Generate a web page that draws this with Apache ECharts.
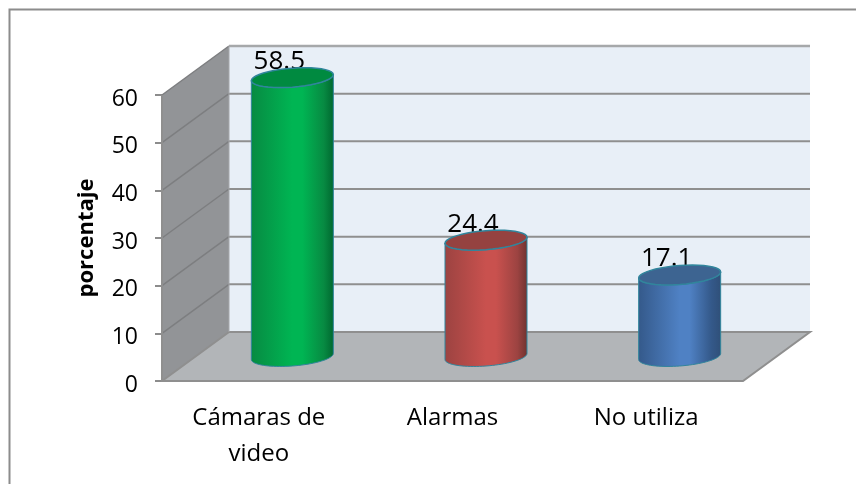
<!DOCTYPE html>
<html>
<head>
<meta charset="utf-8">
<style>html,body{margin:0;padding:0;background:#fff}#c{width:856px;height:484px}</style>
<script src="https://cdn.jsdelivr.net/npm/echarts@6/dist/echarts.min.js"></script>
</head>
<body>
<div id="c"></div>
<script>
var categories = ['Cámaras de\nvideo', 'Alarmas', 'No utiliza'];
var values = [58.5, 24.4, 17.1];
var yTicks = [0, 10, 20, 30, 40, 50, 60];
var sideColors = ['#00b553', '#c9514e', '#4f81c4'];
var edgeColors = ['#078a42', '#9c4341', '#34598a'];
var darkColors = ['#00672f', '#6e322f', '#2f4f78'];
var capColors = ['#008a40', '#954240', '#3d6491'];
var rimColor = '#31859c';
var FONT = '"Open Sans", sans-serif';
var DX = 67, DY = -49, RX = 41, RY = 9.5, SK = 3;

function ell(cx, cy, from, to) {
  var pts = [];
  var n = 40;
  for (var i = 0; i <= n; i++) {
    var t = from + (to - from) * i / n;
    pts.push([cx + RX * Math.cos(t), cy - SK * Math.cos(t) + RY * Math.sin(t)]);
  }
  return pts;
}

var chart = echarts.init(document.getElementById('c'), null, {renderer: 'canvas'});
chart.setOption({
  animation: false,
  backgroundColor: '#fff',
  grid: {left: 162, right: 113, top: 95, bottom: 103, containLabel: false},
  xAxis: {
    type: 'category', data: categories,
    axisLine: {show: false}, axisTick: {show: false},
    axisLabel: {color: '#000', fontFamily: FONT, fontSize: 24, margin: 19, lineHeight: 36, interval: 0}
  },
  yAxis: {
    type: 'value', min: 0, max: 60, interval: 10,
    name: 'porcentaje', nameLocation: 'middle', nameGap: 64, nameRotate: 90,
    nameTextStyle: {color: '#000', fontFamily: FONT, fontSize: 22, fontWeight: 'bold'},
    splitLine: {show: false},
    axisLine: {show: false},
    axisTick: {show: true, length: 7, lineStyle: {color: '#8c8c8c', width: 2}},
    axisLabel: {color: '#000', fontFamily: FONT, fontSize: 23, margin: 24, verticalAlign: 'top', lineHeight: 8}
  },
  series: [
    {
      type: 'custom', z: 1, silent: true, clip: false,
      coordinateSystem: 'cartesian2d',
      data: [0],
      encode: {x: 0, y: 0},
      renderItem: function (params, api) {
        var band = api.size([1, 0])[0];
        var x0 = api.coord([0, 0])[0] - band / 2;
        var x1 = x0 + band * categories.length;
        var y0 = api.coord([0, 0])[1];
        var yT = api.coord([0, yTicks[yTicks.length - 1]])[1];
        var kids = [];
        var edge = {stroke: '#8f8f8f', lineWidth: 2, fill: null};
        // back wall
        kids.push({type: 'polygon', shape: {points: [[x0 + DX, y0 + DY], [x1 + DX, y0 + DY], [x1 + DX, yT + DY], [x0 + DX, yT + DY]]},
          style: {fill: '#e8eff7'}});
        // side wall
        kids.push({type: 'polygon', shape: {points: [[x0, y0], [x0 + DX, y0 + DY], [x0 + DX, yT + DY], [x0, yT]]},
          style: {fill: '#929497'}});
        // floor
        kids.push({type: 'polygon', shape: {points: [[x0, y0], [x1, y0], [x1 + DX, y0 + DY], [x0 + DX, y0 + DY]]},
          style: {fill: '#b2b5b8'}});
        // grid lines
        yTicks.forEach(function (v) {
          var y = api.coord([0, v])[1];
          if (v > 0 && v < yTicks[yTicks.length - 1]) {
            kids.push({type: 'polyline', shape: {points: [[x0 + DX, y + DY], [x1 + DX, y + DY]]}, style: edge});
          }
          if (v > 0) {
            kids.push({type: 'polyline', shape: {points: [[x0, y], [x0 + DX, y + DY]]}, style: {stroke: '#7d7e80', lineWidth: 1.5, fill: null}});
          }
        });
        // edges
        kids.push({type: 'polyline', shape: {points: [[x1 + DX, yT + DY], [x0 + DX, yT + DY]]}, style: {stroke: '#a6a8aa', lineWidth: 2.5, fill: null}});
        kids.push({type: 'polyline', shape: {points: [[x0, yT], [x0, y0], [x1, y0], [x1 + DX, y0 + DY], [x0 + DX, y0 + DY], [x0, y0]]}, style: edge});
        kids.push({type: 'polyline', shape: {points: [[x0 + DX, y0 + DY], [x0 + DX, yT + DY]]}, style: {stroke: '#a6a8ab', lineWidth: 1, fill: null}});
        return {type: 'group', children: kids};
      }
    },
    {
      type: 'custom', z: 2, silent: true, clip: false,
      coordinateSystem: 'cartesian2d',
      data: values.map(function (v, i) { return [i, v]; }),
      encode: {x: 0, y: 1},
      renderItem: function (params, api) {
        var i = params.dataIndex;
        var val = api.value(1);
        var p = api.coord([api.value(0), val]);
        var b = api.coord([api.value(0), 0]);
        var cx = p[0] + DX / 2;
        var base = b[1] + DY / 2;
        var top = p[1] + DY / 2;
        var body = ell(cx, base, 0, Math.PI).concat(ell(cx, top, Math.PI, 0));
        return {type: 'group', children: [
          {type: 'text', z2: 1, style: {text: String(val), x: cx - 13, y: top - 16, align: 'center', verticalAlign: 'middle',
            fill: '#000', font: '26px ' + FONT}},
          {type: 'polygon', z2: 2, shape: {points: body}, style: {
            fill: {type: 'linear', x: 0, y: 0, x2: 1, y2: 0, colorStops: [
              {offset: 0, color: edgeColors[i]},
              {offset: 0.5, color: sideColors[i]},
              {offset: 0.62, color: sideColors[i]},
              {offset: 0.88, color: edgeColors[i]},
              {offset: 1, color: darkColors[i]}]},
            stroke: rimColor, lineWidth: 1}},
          {type: 'polygon', z2: 3, shape: {points: ell(cx, top, 0, Math.PI * 2)}, style: {
            fill: capColors[i], stroke: rimColor, lineWidth: 1.5}}
        ]};
      }
    }
  ],
  graphic: [
    {type: 'polyline', silent: true, z: 0, shape: {points: [[9.5, 484], [9.5, 9.5], [856, 9.5]]}, style: {stroke: '#8c8c8c', lineWidth: 2, fill: null}}
  ]
});
</script>
</body>
</html>
